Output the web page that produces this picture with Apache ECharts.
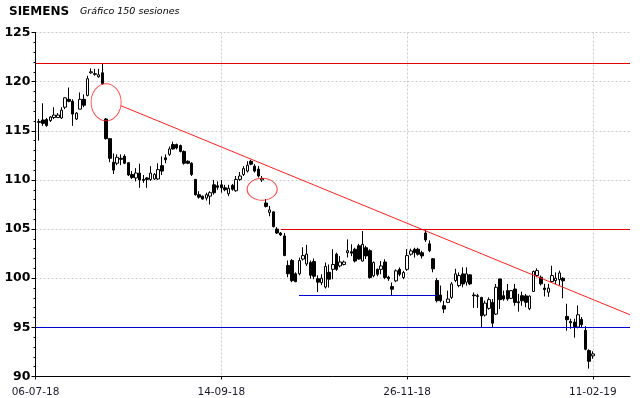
<!DOCTYPE html>
<html>
<head>
<meta charset="utf-8">
<script src="https://cdn.jsdelivr.net/npm/echarts@6/dist/echarts.min.js"></script>
<style>html,body{margin:0;padding:0;background:#fff}#c{width:640px;height:398px}</style>
</head>
<body>
<div id="c"></div>
<script>
// Sessions (category slots); candles occupy slots 1..150, the rest is empty room on the right
const sessionCount = 161;
const sessions = Array.from({length: sessionCount}, (_, i) => String(i));
const tickIndex = [0, 50, 100, 150];
const tickLabels = ['06-07-18', '14-09-18', '26-11-18', '11-02-19'];
const yTicks = [90, 95, 100, 105, 110, 115, 120, 125];

// OHLC: [open, close, low, high]
const candles = [
[115.85,115.95,114.0,116.2],[116.1,115.75,115.5,117.8],[116.15,115.55,115.4,116.3],[116.05,116.4,115.9,116.5],
[116.35,116.6,116.2,117.4],[116.35,116.6,116.3,116.8],[116.3,117.1,116.2,117.4],[117.4,118.35,117.2,118.4],
[118.2,118.0,117.9,119.4],[118.0,116.7,115.5,118.2],[116.2,116.8,116.1,116.9],[117.2,118.2,117.2,118.9],
[118.2,117.6,117.4,118.7],[118.6,120.3,118.5,120.6],[120.9,121.0,120.8,121.35],[120.8,120.75,120.6,121.3],
[120.5,120.7,120.4,121.3],[120.9,119.8,119.7,121.8],[116.2,114.2,114.1,116.3],[114.2,112.2,111.8,114.2],
[111.8,111.0,110.6,112.7],[111.7,112.3,111.5,112.6],[112.2,112.1,111.5,112.6],[112.4,111.7,111.6,112.6],
[111.75,110.5,110.4,111.8],[110.55,110.25,110.1,110.9],[110.2,110.7,109.85,111.2],[110.7,110.0,109.2,111.65],
[110.05,109.95,109.7,110.5],[110.2,110.05,109.2,110.3],[110.05,110.7,109.9,111.4],[110.1,110.55,110.0,110.7],
[110.1,111.05,110.0,111.7],[111.45,110.9,110.5,112.4],[112.25,112.05,111.7,112.6],[112.6,113.15,112.45,113.4],
[113.6,113.15,113.1,113.9],[113.6,113.25,113.1,113.7],[113.5,112.9,112.8,113.6],[112.9,111.7,111.55,113.0],
[111.9,111.7,111.6,112.0],[111.7,110.55,110.4,111.8],[110.05,108.5,108.4,110.1],[108.5,108.25,108.1,108.85],
[108.35,108.05,108.0,108.4],[108.15,108.5,107.9,108.7],[108.35,108.7,107.5,108.85],[109.5,108.7,108.5,110.0],
[109.4,109.25,109.0,109.85],[109.5,109.2,108.7,110.0],[109.2,109.0,108.85,109.5],[108.6,109.15,108.35,109.5],
[109.45,109.05,108.9,109.6],[108.9,110.05,108.8,110.4],[110.05,110.4,109.9,110.8],[110.55,111.15,110.4,111.4],
[110.9,111.5,110.75,111.9],[111.9,111.6,111.5,112.05],[111.4,110.9,110.75,111.6],[111.1,110.4,110.25,111.4],
[110.0,110.15,109.8,110.4],[107.65,107.3,107.2,108.05],[106.7,106.95,106.3,107.35],[106.75,105.25,105.15,106.8],
[105.0,104.6,104.5,105.2],[104.6,104.4,104.3,104.7],[104.3,102.3,102.25,104.6],[101.3,100.45,100.1,101.8],
[101.8,99.75,99.6,101.95],[100.45,99.65,99.6,100.6],[100.45,101.8,100.3,102.1],[101.95,102.3,101.8,103.15],
[101.45,102.45,101.25,103.4],[101.6,100.3,99.95,101.8],[101.7,100.2,99.9,102.0],[99.95,99.6,98.6,100.3],
[99.55,100.0,99.3,100.4],[99.1,101.2,98.95,101.6],[100.6,99.9,99.05,101.4],[100.9,101.4,99.9,102.95],
[102.45,100.9,100.75,102.6],[101.25,101.65,101.1,102.25],[101.4,101.65,101.3,101.8],[102.6,102.8,102.1,103.95],
[102.7,102.55,102.25,103.45],[102.95,101.75,101.6,103.1],[103.3,101.95,101.9,103.5],[101.75,103.45,101.7,104.8],
[103.1,102.27,101.95,103.3],[102.8,100.07,99.95,102.95],[100.25,101.6,100.1,101.7],[100.9,100.4,100.2,101.0],
[100.9,101.25,100.4,101.75],[101.65,100.07,99.9,101.93],[100.1,99.95,99.73,100.25],[99.15,98.88,98.2,99.56],
[99.73,100.75,99.6,100.9],[100.9,100.4,100.2,101.1],[100.07,100.58,99.9,100.75],[100.9,102.3,100.75,102.95],
[102.44,102.78,102.3,103.0],[102.95,102.6,102.1,103.1],[102.95,102.44,102.3,103.1],[102.6,102.27,102.0,102.8],
[104.6,103.9,103.7,104.9],[103.5,102.8,102.65,103.85],[101.98,100.96,100.6,102.05],[99.76,97.71,97.54,100.0],
[98.29,97.71,97.54,99.25],[97.2,96.86,96.45,97.71],[97.54,97.88,97.47,98.74],[98.05,99.42,97.88,99.6],
[99.76,100.44,99.6,100.96],[99.25,100.27,99.08,100.6],[100.44,99.42,99.08,101.1],[99.6,100.44,99.25,101.1],
[100.34,99.42,99.3,100.4],[98.29,98.22,96.98,98.55],[98.22,98.15,96.98,98.4],[98.05,96.18,95.0,98.1],
[96.25,97.47,96.1,97.71],[96.93,97.82,96.8,98.05],[97.54,95.43,95.0,97.88],[96.35,99.08,96.25,99.42],
[99.93,97.82,96.86,99.93],[98.22,97.88,97.71,98.74],[98.74,97.88,97.71,99.42],[97.95,98.74,97.88,98.8],
[98.9,97.54,97.2,99.42],[97.6,97.5,96.6,98.4],[98.22,97.71,97.2,98.63],[98.2,97.55,97.04,98.4],
[96.9,98.18,96.75,98.24],[98.65,100.68,98.6,100.78],[100.27,100.78,100.1,101.0],[100.1,99.43,99.26,100.27],
[99.0,98.85,98.15,99.43],[98.58,98.99,98.1,99.43],[99.66,100.27,99.6,101.27],[99.76,100.0,99.4,100.6],
[99.86,100.54,99.26,100.78],[100.0,99.73,97.96,100.1],[96.11,95.78,94.66,97.4],[95.6,95.47,94.86,95.88],
[95.54,95.03,93.95,95.88],[95.03,96.28,94.9,97.23],[95.81,95.27,95.03,96.05],[94.7,92.77,92.67,95.13],
[92.64,91.55,90.8,92.77],[92.1,92.3,91.8,92.57]
];
const firstCandleSlot = 1;

// Annotation levels: [fromSlot, toSlot, price]
const resistanceTop = [0, 160, 121.8];   // red
const supportBottom = [0, 160, 95];      // blue
const resistanceMid = [66, 160, 105];    // red
const supportMid = [71, 108, 98.25];     // blue
const trendLine = [[23, 117.55], [160, 96.28]];   // red downward trend
const ellipses = [ {slot: 19, price: 117.9, size: [30, 37]}, {slot: 61, price: 109.05, size: [30, 22]} ];

const RED = '#e00000', BLUE = '#0000d0';

const chart = echarts.init(document.getElementById('c'), null, {renderer: 'canvas'});
const ohlcData = candles.map((d, i) => [firstCandleSlot + i, d[0], d[1], d[2], d[3]]);
const tickSet = {}; tickIndex.forEach((t, i) => tickSet[t] = tickLabels[i]);

chart.setOption({
  animation: false,
  backgroundColor: '#fff',
  title: [
    {text: 'SIEMENS', left: 9, top: 6, padding: 0, textStyle: {fontFamily: 'DejaVu Sans', fontWeight: 'bold', fontSize: 12, color: '#000'}},
    {text: 'Gráfico 150 sesiones', left: 80, top: 7, padding: 0, textStyle: {fontFamily: 'DejaVu Sans', fontStyle: 'italic', fontWeight: 'normal', fontSize: 9.5, color: '#000'}}
  ],
  grid: {left: 35.5, right: 10, top: 32.5, bottom: 21.5, containLabel: false},
  xAxis: {
    type: 'category', data: sessions, boundaryGap: false,
    axisLine: {lineStyle: {color: '#000', width: 1}},
    axisTick: {show: true, length: 3, interval: (i) => tickSet[i] !== undefined, lineStyle: {color: '#000'}},
    axisLabel: {interval: (i) => tickSet[i] !== undefined, formatter: (v, i) => tickSet[i] || '', margin: 10,
      fontFamily: 'DejaVu Sans', fontSize: 10.5, color: '#1a1a2a'},
    splitLine: {show: true, interval: (i) => tickSet[i] !== undefined && i > 0, lineStyle: {color: '#d0c8d8', type: [2, 2], width: 1}}
  },
  yAxis: {
    type: 'value', min: yTicks[0], max: yTicks[yTicks.length - 1], interval: 5,
    axisLine: {show: true, lineStyle: {color: '#000', width: 1}},
    axisTick: {show: true, length: 4, lineStyle: {color: '#000'}},
    minorTick: {show: true, splitNumber: 5, length: 2, lineStyle: {color: '#000'}},
    axisLabel: {margin: 5, fontFamily: 'DejaVu Sans', fontWeight: 'bold', fontSize: 12.5, color: '#000'},
    splitLine: {show: true, lineStyle: {color: '#c8ccc8', type: [2, 2], width: 1}}
  },
  series: [
    {
      type: 'candlestick', data: ohlcData, encode: {x: 0, y: [1, 2, 3, 4]}, barWidth: 3, z: 3,
      itemStyle: {color: '#fff', color0: '#000', borderColor: '#000', borderColor0: '#000', borderWidth: 1},
      markLine: {
        silent: true, symbol: ['none', 'none'], label: {show: false}, animation: false, z: 4,
        data: [
          [{coord: trendLine[0], lineStyle: {color: '#ff2020', width: 1, type: 'solid'}}, {coord: trendLine[1], lineStyle: {color: '#ff2020', width: 1, type: 'solid'}}]
        ]
      }
    },
    {
      type: 'scatter', silent: true, z: 5,
      data: ellipses.map(e => ({value: [e.slot, e.price], symbolSize: e.size})),
      symbol: 'circle',
      itemStyle: {color: 'rgba(255,255,255,0)', borderColor: '#ff2020', borderWidth: 1}
    }
  ]
});

// Horizontal support / resistance levels, placed through the chart's own scales and snapped to whole pixels
function levelLine(l, color) {
  const a = chart.convertToPixel({gridIndex: 0}, [l[0], l[2]]);
  const b = chart.convertToPixel({gridIndex: 0}, [l[1], l[2]]);
  const y = Math.round(a[1] - 0.5) + 0.5;
  return {type: 'line', silent: true, z: 10, shape: {x1: Math.round(a[0]), y1: y, x2: Math.round(b[0]), y2: y},
          style: {stroke: color, lineWidth: 1}};
}
chart.setOption({
  graphic: [
    levelLine(resistanceTop, RED),
    levelLine(supportBottom, BLUE),
    levelLine(resistanceMid, RED),
    levelLine(supportMid, BLUE)
  ]
});
</script>
</body>
</html>
